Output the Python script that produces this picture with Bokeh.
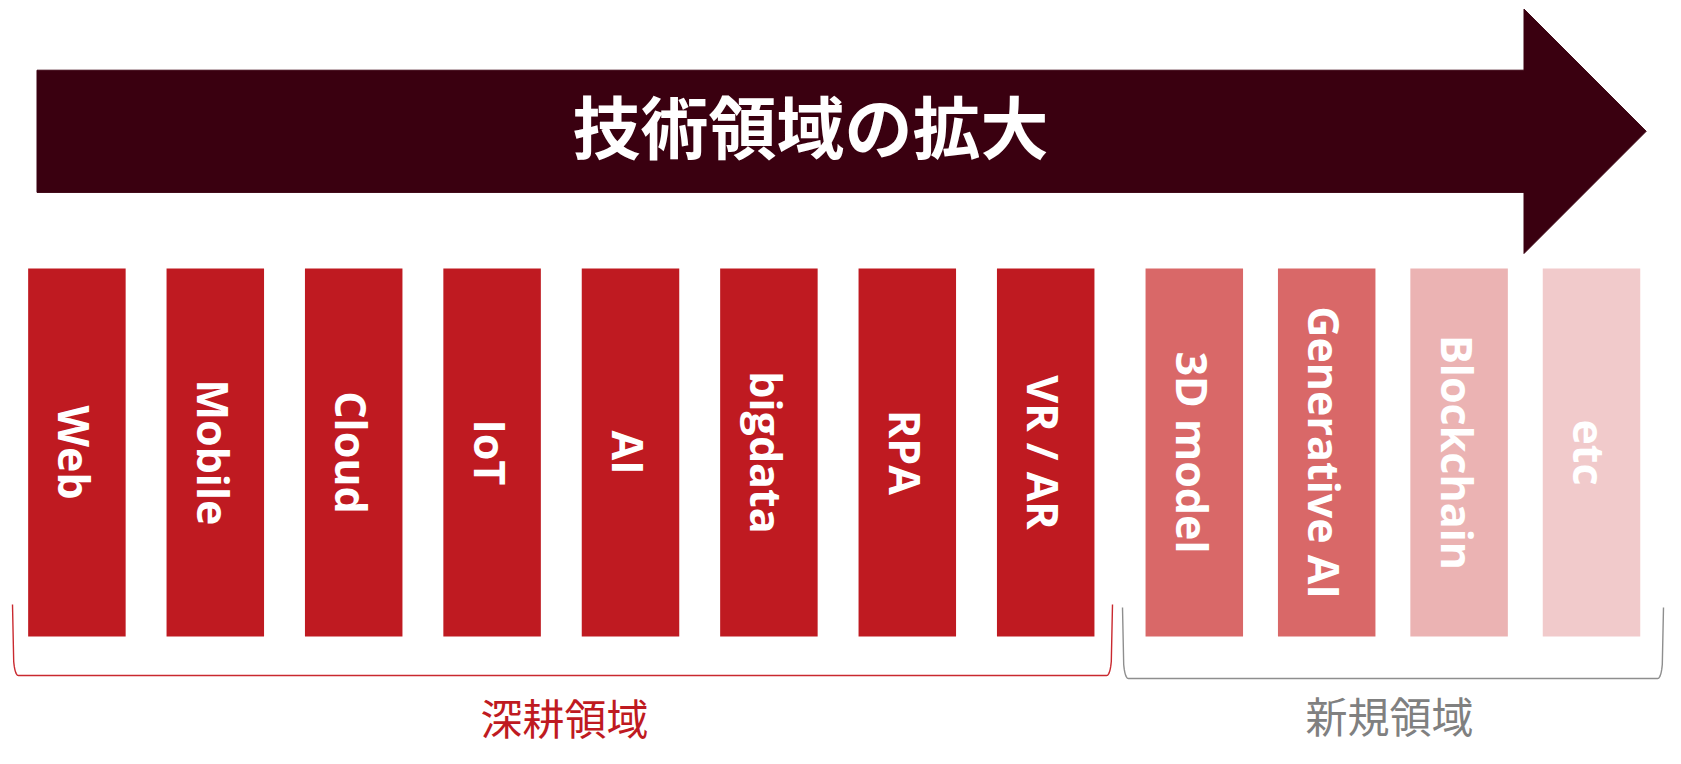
import numpy as np
from bokeh.plotting import figure
from bokeh.models import Range1d, ColumnDataSource
from bokeh.core.properties import value
from bokeh.embed import file_html
from bokeh.resources import INLINE

# ---------------- data ----------------
title_text = "技術領域の拡大"
deep_areas = ["Web", "Mobile", "Cloud", "IoT", "AI", "bigdata", "RPA", "VR / AR"]
deep_colors = ["#BF1A21"] * 8
new_areas = ["3D model", "Generative AI", "Blockchain", "etc"]
new_colors = ["#D96868", "#D96868", "#EBB3B3", "#F1CACB"]
deep_label = "深耕領域"
new_label = "新規領域"

# ---------------- layout (picture pixels) ----------------
W, H = 1665, 748
BAR_TOP, BAR_BOTTOM, BAR_W = 268, 636, 97.5
DEEP_X0, DEEP_STEP = 76.4, 138.4
NEW_X0, NEW_STEP = 1193.8, 132.4
ARROW_L, ARROW_BASE, ARROW_TIP = 36.5, 1523.5, 1645.7
ARROW_BODY_T, ARROW_BODY_B = 69.7, 191.9
ARROW_HEAD_T, ARROW_HEAD_B = 8.6, 253.0
ARROW_COLOR = "#3A0010"

p = figure(width=W, height=H, output_backend="svg", toolbar_location=None,
           x_range=Range1d(0, W), y_range=Range1d(H, 0),
           x_axis_type=None, y_axis_type=None, min_border=0,
           outline_line_color=None, background_fill_color="white",
           border_fill_color="white")
p.grid.visible = False

# arrow
mid = (ARROW_HEAD_T + ARROW_HEAD_B) / 2
p.patch([ARROW_L, ARROW_BASE, ARROW_BASE, ARROW_TIP, ARROW_BASE, ARROW_BASE, ARROW_L],
        [ARROW_BODY_T, ARROW_BODY_T, ARROW_HEAD_T, mid, ARROW_HEAD_B, ARROW_BODY_B, ARROW_BODY_B],
        fill_color=ARROW_COLOR, line_color=ARROW_COLOR, line_width=1)
p.text(x=[810], y=[124], text=[title_text], text_color="white",
       text_font=value("Noto Sans CJK JP"), text_font_style="bold",
       text_font_size="68px", text_align="center", text_baseline="middle")

# bars
names = deep_areas + new_areas
colors = deep_colors + new_colors
xs = [DEEP_X0 + i * DEEP_STEP for i in range(len(deep_areas))] + \
     [NEW_X0 + i * NEW_STEP for i in range(len(new_areas))]
src = ColumnDataSource(dict(x=xs, name=names, color=colors,
                            lx=[x - 2 for x in xs],
                            ly=[(BAR_TOP + BAR_BOTTOM) / 2] * len(xs)))
p.vbar(x="x", width=BAR_W, top=BAR_TOP, bottom=BAR_BOTTOM, fill_color="color",
       line_color=None, source=src)
p.text(x="lx", y="ly", text="name", source=src, angle=-np.pi / 2,
       text_color="white", text_font=value("Open Sans"), text_font_style="bold",
       text_font_size="43px", text_align="center", text_baseline="middle")


def bracket(left, right, top, bottom):
    def quad(p0, c, p1, n=12):
        t = np.linspace(0, 1, n)
        x = (1 - t) ** 2 * p0[0] + 2 * (1 - t) * t * c[0] + t ** 2 * p1[0]
        y = (1 - t) ** 2 * p0[1] + 2 * (1 - t) * t * c[1] + t ** 2 * p1[1]
        return list(x), list(y)
    xs_, ys_ = [left], [top]
    a, b = quad((left + 1.2, bottom - 14), (left + 2.5, bottom), (left + 6, bottom))
    xs_ += a; ys_ += b
    a, b = quad((right - 6, bottom), (right - 2.5, bottom), (right - 1.2, bottom - 14))
    xs_ += a; ys_ += b
    xs_.append(right); ys_.append(top)
    return xs_, ys_


bx, by = bracket(12, 1112, 604, 675)
p.line(bx, by, line_color="#C9292F", line_width=1.4)
gx, gy = bracket(1122, 1663, 607, 678)
p.line(gx, gy, line_color="#8E8E8E", line_width=1.4)

p.text(x=[564], y=[716], text=[deep_label], text_color="#BF1A21",
       text_font=value("Noto Sans CJK JP"), text_font_size="42px",
       text_align="center", text_baseline="middle")
p.text(x=[1389], y=[714], text=[new_label], text_color="#808080",
       text_font=value("Noto Sans CJK JP"), text_font_size="42px",
       text_align="center", text_baseline="middle")

open("out.html", "w").write(file_html(p, INLINE))
